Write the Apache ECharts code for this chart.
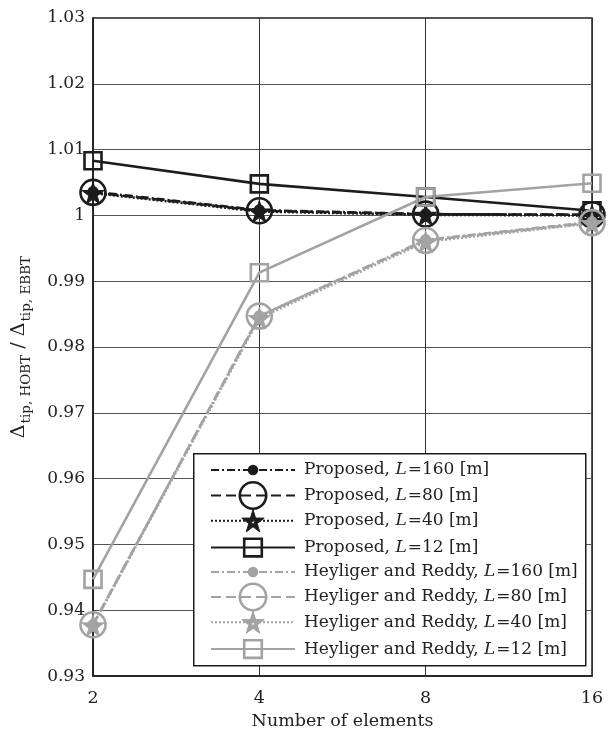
<!DOCTYPE html>
<html><head><meta charset="utf-8">
<script src="https://cdn.jsdelivr.net/npm/echarts@6/dist/echarts.min.js"></script>
<style>html,body{margin:0;padding:0;background:#fff}#c{width:609px;height:735px}</style>
</head><body><div id="c"></div>
<script>
const categories = ['2', '4', '8', '16'];
const yTicks = [0.93, 0.94, 0.95, 0.96, 0.97, 0.98, 0.99, 1.00, 1.01, 1.02, 1.03];
const seriesNames = [
  'Proposed, L=160 [m]', 'Proposed, L=80 [m]', 'Proposed, L=40 [m]', 'Proposed, L=12 [m]',
  'Heyliger and Reddy, L=160 [m]', 'Heyliger and Reddy, L=80 [m]', 'Heyliger and Reddy, L=40 [m]', 'Heyliger and Reddy, L=12 [m]'
];
const propL160 = [1.0036, 1.0008, 1.0002, 1.0001];
const propL80  = [1.0035, 1.0007, 1.0002, 1.0001];
const propL40  = [1.0034, 1.0006, 1.0001, 1.0000];
const propL12  = [1.0083, 1.0048, 1.0028, 1.0007];
const heyL160  = [0.9378, 0.9847, 0.9963, 0.9990];
const heyL80   = [0.9378, 0.9847, 0.9962, 0.9989];
const heyL40   = [0.9377, 0.9844, 0.9960, 0.9988];
const heyL12   = [0.9447, 0.9913, 1.0028, 1.0049];

const BLACK = '#1c1c1c', GRAY = '#a3a3a3';
const STAR = 'path://M50,0 L61,35 L98,35 L68,57 L79,91 L50,70 L21,91 L32,57 L2,35 L39,35 Z ' +
  'M50,39 L47.25,47.75 L38,47.75 L45.5,53.25 L42.75,61.75 L50,56.5 L57.25,61.75 L54.5,53.25 L62,47.75 L52.75,47.75 Z';
const FONT = 'DejaVu Serif';
const TXT = '#222';

// symbol kind per series: [symbol, chartSize, legendItemHeight, filled]
const kinds = [
  ['circle', 9, 10, true],
  ['circle', 25, 33, false],
  [STAR, 22, 28, true],
  ['rect', 17, 22, false]
];
const dashes = [[8, 3, 2, 3], [10, 5], [2, 2], 'solid'];

const series = seriesNames.map((name, i) => {
  const color = i < 4 ? BLACK : GRAY;
  const k = kinds[i % 4];
  const data = [propL160, propL80, propL40, propL12, heyL160, heyL80, heyL40, heyL12][i];
  return {
    name, type: 'line', data,
    symbol: k[0], symbolSize: k[1], showAllSymbol: true,
    lineStyle: { color, width: 2.6, type: dashes[i % 4] },
    itemStyle: { color: k[3] ? color : 'rgba(0,0,0,0)', borderColor: color, borderWidth: (i % 4 === 2) ? 1 : 2.6 },
    emphasis: { disabled: true },
    z: 2,
    animation: false
  };
});

const rowCenters = [472, 497.5, 523, 548.5, 574, 599, 624.5, 650];
const legends = seriesNames.map((name, i) => {
  const k = kinds[i % 4];
  const h = Math.max(k[2], 21);
  return {
    data: [name], orient: 'vertical', left: 210, top: rowCenters[i] - h / 2,
    padding: 0, itemWidth: 84, itemHeight: k[2], selectedMode: false, z: 10,
    itemStyle: { borderWidth: (i % 4 === 2) ? 1 : 2.6 },
    textStyle: {
      fontFamily: FONT, fontSize: 17, color: TXT, padding: [0, 0, 0, 4],
      rich: { i: { fontFamily: FONT, fontSize: 17, fontStyle: 'italic', color: TXT, padding: [0, 1, 0, 0] } }
    },
    formatter: n => n.replace('L=', '{i|L}=')
  };
});

const chart = echarts.init(document.getElementById('c'), null, { renderer: 'canvas' });
chart.setOption({
  backgroundColor: '#fff',
  animation: false,
  grid: { left: 93, right: 17, top: 18, bottom: 55, show: true, borderColor: BLACK, borderWidth: 1.5, backgroundColor: 'transparent' },
  xAxis: {
    type: 'category', data: categories, boundaryGap: false,
    name: 'Number of elements', nameLocation: 'middle', nameGap: 35,
    nameTextStyle: { fontFamily: FONT, fontSize: 17.5, color: TXT },
    axisLine: { lineStyle: { color: BLACK, width: 1.5 } },
    axisTick: { show: false },
    axisLabel: { fontFamily: FONT, fontSize: 17.5, color: TXT, margin: 13 },
    splitLine: { show: true, lineStyle: { color: '#333', width: 1 } }
  },
  yAxis: {
    type: 'value', min: yTicks[0], max: yTicks[yTicks.length - 1], interval: 0.01,
    name: '{m|Δ}{s|tip, HOBT}{m| / Δ}{s|tip, EBBT}', nameLocation: 'middle', nameGap: 60, nameRotate: 90,
    nameTextStyle: {
      fontFamily: FONT, color: TXT,
      rich: {
        m: { fontFamily: FONT, fontSize: 19, color: TXT, lineHeight: 28, verticalAlign: 'middle' },
        s: { fontFamily: FONT, fontSize: 13.5, color: TXT, lineHeight: 28, verticalAlign: 'bottom', padding: [0, 0, 0, 1] }
      }
    },
    axisLine: { show: true, lineStyle: { color: BLACK, width: 1.5 } },
    axisTick: { show: false },
    axisLabel: { fontFamily: FONT, fontSize: 17, color: TXT, margin: 8,
      formatter: v => String(parseFloat(v.toFixed(2))) },
    splitLine: { show: true, lineStyle: { color: '#555', width: 1 } }
  },
  graphic: [{
    type: 'rect', left: 193, top: 453, z: 8,
    shape: { width: 392, height: 212 },
    style: { fill: '#fff', stroke: BLACK, lineWidth: 1.5 }
  }],
  legend: legends,
  series
});
</script></body></html>
